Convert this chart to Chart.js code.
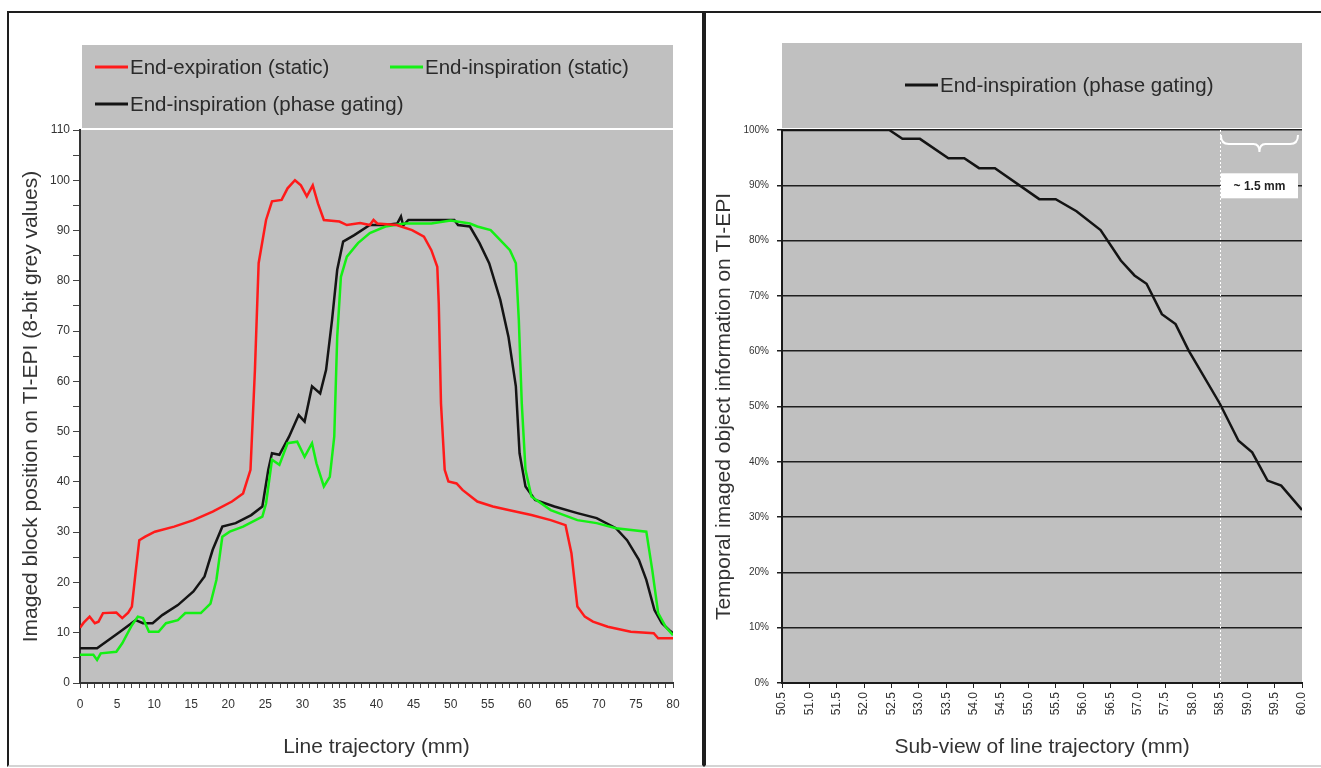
<!DOCTYPE html>
<html>
<head>
<meta charset="utf-8">
<script src="https://cdn.jsdelivr.net/npm/chart.js@4.4.0/dist/chart.umd.min.js"></script>
<style>
  html, body { margin: 0; padding: 0; background: #fff; overflow: hidden; }
  .panel { position: absolute; top: 11px; height: 752px; border: 2px solid #1e1e1e; border-bottom-color: #d4d4d4; background: #fff; }
  #leftPanel { left: 7px; width: 693px; }
  #rightPanel { left: 704px; width: 640px; }
  canvas { position: absolute; left: 0; top: 0; }
</style>
</head>
<body>
<div class="panel" id="leftPanel"><canvas id="profileChart" width="693" height="752"></canvas></div>
<div class="panel" id="rightPanel"><canvas id="subviewChart" width="615" height="752"></canvas></div>
<script>
// 左: ライン上のグレー値プロファイル
const seriesLabels = ["End-expiration (static)", "End-inspiration (static)", "End-inspiration (phase gating)"];

const expirationX = [0, 0.5, 1.3, 2, 2.5, 3.1, 4.9, 5.7, 6.5, 7, 7.5, 8, 8.8, 10.1, 12.7, 15.3, 17.9, 20.5, 22, 23, 23.6, 24.1, 25.1, 25.9, 27.2, 28, 29, 29.8, 30.6, 31.4, 32.1, 32.9, 35, 36, 37.8, 39.1, 39.6, 40.1, 42.7, 44.8, 46.4, 47.4, 48.2, 48.4, 48.7, 49.2, 49.7, 50.8, 51.6, 53.6, 55.7, 57.8, 60.9, 63.5, 65.5, 66.3, 67.1, 68.1, 69.2, 71.2, 74.3, 77.4, 78, 80];
const expirationY = [11, 12, 13.2, 11.9, 12.2, 13.9, 14, 12.9, 14, 15.2, 22, 28.4, 29.1, 30.1, 31.1, 32.4, 34.1, 36.1, 37.7, 42.4, 62.3, 83.5, 92.1, 95.8, 96.1, 98.4, 100, 99, 96.8, 99, 95.4, 92.1, 91.8, 91.1, 91.5, 91.1, 92.1, 91.4, 91.1, 90.1, 88.8, 86.1, 82.8, 75.5, 55.6, 42.4, 40.1, 39.7, 38.4, 36.1, 35.1, 34.4, 33.4, 32.4, 31.4, 25.8, 15.2, 13.2, 12.2, 11.2, 10.2, 9.9, 8.9, 8.9];

const inspirationX = [0, 1.8, 2.3, 2.8, 4.9, 5.7, 7, 7.8, 8.5, 9.3, 10.6, 11.6, 13.2, 14.2, 16.3, 17.6, 18.4, 19.2, 20.2, 22, 24.6, 25.1, 25.9, 26.9, 28, 29.3, 30.3, 31.3, 31.9, 32.9, 33.7, 34.3, 34.7, 35.2, 36, 37.5, 39.1, 41.2, 43.8, 47.4, 50, 52.6, 53.6, 55.4, 56.7, 58, 58.8, 59.2, 59.6, 60.1, 60.9, 63.5, 67.1, 69.7, 72.3, 76.4, 77.2, 78, 79, 80];
const inspirationY = [5.6, 5.6, 4.6, 5.9, 6.2, 7.9, 11.5, 13.2, 12.9, 10.2, 10.2, 11.9, 12.5, 13.9, 13.9, 15.8, 20.5, 29.1, 30.1, 31.1, 33.1, 35.7, 44.4, 43.4, 47.7, 48, 45, 47.7, 43.7, 39.1, 41, 49, 68.9, 80.8, 84.8, 87.5, 89.5, 90.8, 91.4, 91.4, 92, 91.4, 90.8, 90.1, 88.1, 86.1, 83.5, 72.2, 55.6, 42.4, 37.1, 34.4, 32.4, 31.8, 30.8, 30.1, 22.5, 13.9, 11.2, 9.5];

const gatingX = [0, 2.3, 3.9, 5.4, 7.5, 8.5, 9.8, 11.1, 13.2, 15.3, 16.8, 17.9, 19.2, 21, 23.1, 24.6, 25.4, 25.9, 26.9, 28.2, 29.5, 30.3, 31.3, 32.4, 33.2, 34, 34.7, 35.5, 37, 39.1, 41.2, 42.8, 43.3, 43.6, 44.3, 50.5, 51, 52.6, 53.9, 55.2, 56.7, 57.8, 58.8, 59.3, 60.1, 61.4, 64, 67.1, 69.7, 72.3, 73.8, 75.4, 76.4, 77.5, 78.5, 79.5, 80];
const gatingY = [6.9, 6.9, 8.6, 10.2, 12.5, 11.9, 11.9, 13.5, 15.5, 18.2, 21.2, 26.5, 31.1, 31.8, 33.4, 35.1, 42.4, 45.7, 45.4, 49, 53.3, 52, 59, 57.6, 62.3, 72.2, 82.2, 87.8, 89.1, 91.1, 91.1, 91.4, 92.8, 91, 92.1, 92.1, 91.1, 90.8, 87.5, 83.5, 76.2, 68.9, 59, 45.7, 39.1, 36.4, 35.1, 33.8, 32.8, 30.8, 28.4, 24.5, 20.5, 14.5, 11.9, 10.5, 9.9];

// 右: サブビュー (phase gating)
const subviewLabel = "End-inspiration (phase gating)";
const subviewX = [50.5, 52.46, 52.7, 53.02, 53.54, 53.83, 54.1, 54.39, 55.2, 55.5, 55.88, 56.32, 56.69, 56.94, 57.16, 57.44, 57.69, 57.93, 58.5, 58.84, 59.09, 59.37, 59.62, 60.0];
const subviewY = [100, 100, 98.4, 98.4, 94.9, 94.9, 93.1, 93.1, 87.5, 87.5, 85.3, 81.9, 76.4, 73.7, 72.2, 66.7, 64.9, 60.1, 50.5, 43.8, 41.7, 36.6, 35.7, 31.3];
const markerFrom = 58.5;
const markerTo = 60.0;
const markerText = "~ 1.5 mm";

const toPoints = (xs, ys) => xs.map((x, i) => ({ x: x, y: ys[i] }));

Chart.defaults.font.family = "'Liberation Sans', Arial, sans-serif";
Chart.defaults.color = "#333";
Chart.defaults.animation = false;

// プロット背景と凡例ボックス
const panelDecor = {
  id: "panelDecor",
  beforeDraw(chart, args, opts) {
    const { ctx, chartArea: a } = chart;
    ctx.save();
    ctx.fillStyle = "#c0c0c0";
    ctx.fillRect(a.left, a.top, a.right - a.left, a.bottom - a.top);
    ctx.fillRect(a.left + opts.boxInset, opts.boxTop, a.right - a.left - opts.boxInset, opts.boxBottom - opts.boxTop);
    ctx.font = opts.font;
    ctx.textBaseline = "middle";
    ctx.fillStyle = "#2a2a2a";
    opts.items.forEach((item) => {
      const ds = chart.data.datasets[item.index];
      const x = a.left + item.dx;
      ctx.strokeStyle = ds.borderColor;
      ctx.lineWidth = 3;
      ctx.beginPath();
      ctx.moveTo(x, item.y);
      ctx.lineTo(x + 33, item.y);
      ctx.stroke();
      ctx.fillText(ds.label, x + 35, item.y + 1);
    });
    ctx.restore();
  },
};

// 右側: 58.5mm の点線と「~ 1.5 mm」注記
const markerDecor = {
  id: "markerDecor",
  beforeDatasetsDraw(chart) {
    const { ctx, chartArea: a, scales } = chart;
    const x = Math.round(scales.x.getPixelForValue(markerFrom)) + 0.5;
    ctx.save();
    ctx.strokeStyle = "#ffffff";
    ctx.lineWidth = 1;
    ctx.setLineDash([2, 2]);
    ctx.beginPath();
    ctx.moveTo(x, a.top);
    ctx.lineTo(x, a.bottom);
    ctx.stroke();
    ctx.restore();
  },
  afterDraw(chart) {
    const { ctx, chartArea: a, scales } = chart;
    const x1 = scales.x.getPixelForValue(markerFrom) + 1;
    const x2 = scales.x.getPixelForValue(markerTo) - 4;
    const mid = (x1 + x2) / 2;
    const top = a.top + 5;
    ctx.save();
    ctx.strokeStyle = "#ffffff";
    ctx.lineWidth = 2;
    ctx.beginPath();
    ctx.moveTo(x1, top);
    ctx.quadraticCurveTo(x1, top + 9, x1 + 8, top + 9);
    ctx.lineTo(mid - 6, top + 9);
    ctx.quadraticCurveTo(mid, top + 9, mid, top + 17);
    ctx.quadraticCurveTo(mid, top + 9, mid + 6, top + 9);
    ctx.lineTo(x2 - 8, top + 9);
    ctx.quadraticCurveTo(x2, top + 9, x2, top);
    ctx.stroke();

    const yMid = scales.y.getPixelForValue(90);
    ctx.fillStyle = "#ffffff";
    ctx.fillRect(x1, yMid - 12, x2 - x1, 25);
    ctx.fillStyle = "#222";
    ctx.font = "bold 12px 'Liberation Sans', Arial, sans-serif";
    ctx.textAlign = "center";
    ctx.textBaseline = "middle";
    ctx.fillText(markerText, mid, yMid + 1);
    ctx.restore();
  },
};

const tickFont = { size: 12 };
const titleFont = { size: 21 };
const legendFont = "20.5px 'Liberation Sans', Arial, sans-serif";

new Chart(document.getElementById("profileChart"), {
  type: "line",
  data: {
    datasets: [
      { label: seriesLabels[0], data: toPoints(expirationX, expirationY), borderColor: "#ff1a1a" },
      { label: seriesLabels[1], data: toPoints(inspirationX, inspirationY), borderColor: "#14f014" },
      { label: seriesLabels[2], data: toPoints(gatingX, gatingY), borderColor: "#141414" },
    ],
  },
  options: {
    responsive: false,
    layout: { padding: { top: 117, right: 29, left: 0, bottom: 0 } },
    elements: {
      line: { borderWidth: 2.5, tension: 0, fill: false },
      point: { radius: 0 },
    },
    scales: {
      x: {
        type: "linear",
        min: 0,
        max: 80,
        afterFit: (scale) => { scale.height = 82; },
        ticks: { stepSize: 1, autoSkip: false, maxRotation: 0, padding: 9, font: tickFont, color: "#333", callback: (v) => (v % 5 === 0 ? v : "") },
        grid: { drawOnChartArea: false, tickLength: 5, color: "#444", lineWidth: 1 },
        border: { color: "#333", width: 2 },
        title: { display: true, text: "Line trajectory (mm)", font: titleFont, color: "#333", padding: { top: 0, bottom: 5 } },
      },
      y: {
        type: "linear",
        min: 0,
        max: 110,
        afterFit: (scale) => { scale.width = 71; },
        ticks: { stepSize: 5, autoSkip: false, padding: 3, font: tickFont, color: "#333", callback: (v) => (v % 10 === 0 ? v : "") },
        grid: { drawOnChartArea: false, tickLength: 7, color: "#444", lineWidth: 1 },
        border: { color: "#333", width: 2 },
        title: { display: true, text: "Imaged block position on TI-EPI (8-bit grey values)", font: titleFont, color: "#333", padding: { top: 10, bottom: 0 } },
      },
    },
    plugins: {
      legend: { display: false },
      tooltip: { enabled: false },
      panelDecor: {
        boxInset: 2,
        boxTop: 32,
        boxBottom: 115,
        font: legendFont,
        items: [
          { index: 0, dx: 15, y: 54 },
          { index: 1, dx: 310, y: 54 },
          { index: 2, dx: 15, y: 91 },
        ],
      },
    },
  },
  plugins: [panelDecor],
});

new Chart(document.getElementById("subviewChart"), {
  type: "line",
  data: {
    datasets: [{ label: subviewLabel, data: toPoints(subviewX, subviewY), borderColor: "#141414" }],
  },
  options: {
    responsive: false,
    layout: { padding: { top: 117, right: 19, left: 0, bottom: 0 } },
    elements: {
      line: { borderWidth: 2.5, tension: 0, fill: false },
      point: { radius: 0 },
    },
    scales: {
      x: {
        type: "linear",
        min: 50.5,
        max: 60,
        afterFit: (scale) => { scale.height = 82; },
        ticks: { stepSize: 0.5, autoSkip: false, minRotation: 90, maxRotation: 90, padding: 4, font: { size: 12 }, color: "#333", callback: (v) => v.toFixed(1) },
        grid: { drawOnChartArea: false, tickLength: 5, color: "#222", lineWidth: 1 },
        border: { color: "#1a1a1a", width: 2 },
        title: { display: true, text: "Sub-view of line trajectory (mm)", font: titleFont, color: "#333", padding: { top: 0, bottom: 5 } },
      },
      y: {
        type: "linear",
        min: 0,
        max: 100,
        afterFit: (scale) => { scale.width = 76; },
        ticks: { stepSize: 10, padding: 8, font: { size: 10 }, color: "#333", callback: (v) => v + "%" },
        grid: { color: "#1e1e1e", lineWidth: 1.5, tickLength: 5 },
        border: { color: "#1a1a1a", width: 2 },
        title: { display: true, text: "Temporal imaged object information on TI-EPI", font: titleFont, color: "#333", padding: { top: 6, bottom: 0 } },
      },
    },
    plugins: {
      legend: { display: false },
      tooltip: { enabled: false },
      panelDecor: {
        boxInset: 0,
        boxTop: 30,
        boxBottom: 115,
        font: legendFont,
        items: [{ index: 0, dx: 123, y: 72 }],
      },
    },
  },
  plugins: [panelDecor, markerDecor],
});
</script>
</body>
</html>
